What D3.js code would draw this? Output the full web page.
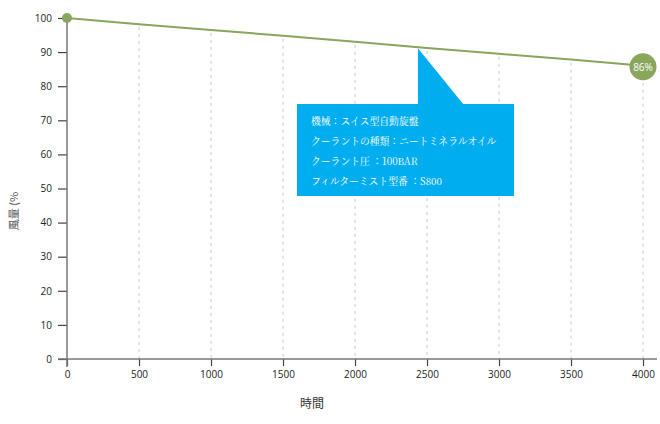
<!DOCTYPE html>
<html>
<head>
<meta charset="utf-8">
<script src="https://cdn.jsdelivr.net/npm/d3@7"></script>
<style>
  body { margin: 0; background: #fff; }
  svg { display: block; }
</style>
</head>
<body>
<div id="chart"></div>
<script>
const hours = [0, 500, 1000, 1500, 2000, 2500, 3000, 3500, 4000]
const airflow = [100, 98.2, 96.5, 94.8, 93, 91.2, 89.5, 87.8, 86]
const yTicks = [0, 10, 20, 30, 40, 50, 60, 70, 80, 90, 100]
const tipLines = [
  '機械：スイス型自動旋盤',
  'クーラントの種類：ニートミネラルオイル',
  'クーラント圧 ：100BAR',
  'フィルターミスト型番 ：S800'
]
const tipHour = 2437

const width = 660
const height = 424
const margin = { top: 18, right: 17, bottom: 65, left: 67 }
const green = '#88a65c'

const svg = d3.select('#chart').append('svg').attr('width', width).attr('height', height)

const xScale = d3.scaleLinear().domain([0, 4000]).range([margin.left, width - margin.right])
const yScale = d3.scaleLinear().domain([0, 100]).range([height - margin.bottom, margin.top])

const data = hours.map((h, i) => ({ h, v: airflow[i] }))

// drop lines from each point to the axis
svg
  .append('g')
  .selectAll('line')
  .data(data.slice(1))
  .join('line')
  .attr('x1', (d) => xScale(d.h))
  .attr('x2', (d) => xScale(d.h))
  .attr('y1', (d) => yScale(d.v) + 3)
  .attr('y2', yScale(0))
  .attr('stroke', '#c8c8c8')
  .attr('stroke-width', 1)
  .attr('stroke-dasharray', '3,4')

// axes
const xAxis = d3.axisBottom(xScale).tickValues(hours).tickFormat(d3.format('d')).tickSize(7).tickPadding(5)
const yAxis = d3.axisLeft(yScale).tickValues(yTicks).tickSize(9).tickPadding(6)

const styleAxis = (g) => {
  g.select('.domain').remove()
  g.selectAll('.tick line').attr('stroke', '#444').attr('stroke-width', 1.2)
  g.selectAll('.tick text')
    .attr('fill', '#222')
    .attr('font-size', '10px')
    .attr('font-family', '"Open Sans", sans-serif')
}

svg
  .append('g')
  .attr('transform', `translate(0,${yScale(0)})`)
  .call(xAxis)
  .call(styleAxis)

svg
  .append('g')
  .attr('transform', `translate(${xScale(0)},0)`)
  .call(yAxis)
  .call(styleAxis)

// axis lines with overhang
svg
  .append('line')
  .attr('x1', xScale(0) - 9)
  .attr('x2', width - 3)
  .attr('y1', yScale(0))
  .attr('y2', yScale(0))
  .attr('stroke', '#777')
  .attr('stroke-width', 1.5)
svg
  .append('line')
  .attr('x1', xScale(0))
  .attr('x2', xScale(0))
  .attr('y1', yScale(100))
  .attr('y2', yScale(0) + 8)
  .attr('stroke', '#777')
  .attr('stroke-width', 1.5)

// axis titles
svg
  .append('text')
  .attr('x', 312)
  .attr('y', 408)
  .attr('text-anchor', 'middle')
  .attr('font-size', '12px')
  .attr('font-family', '"Noto Sans CJK JP", sans-serif')
  .attr('fill', '#333')
  .text('時間')

svg
  .append('text')
  .attr('transform', 'translate(18,211) rotate(-90)')
  .attr('text-anchor', 'middle')
  .attr('font-size', '11px')
  .attr('font-family', '"Noto Sans CJK JP", sans-serif')
  .attr('fill', '#555')
  .text('風量 (%')

// line
const line = d3
  .line()
  .x((d) => xScale(d.h))
  .y((d) => yScale(d.v))

svg
  .append('path')
  .datum(data)
  .attr('d', line)
  .attr('fill', 'none')
  .attr('stroke', green)
  .attr('stroke-width', 2)

// start point
svg
  .append('circle')
  .attr('cx', xScale(hours[0]))
  .attr('cy', yScale(airflow[0]))
  .attr('r', 5)
  .attr('fill', green)

// end bubble
const last = data[data.length - 1]
svg
  .append('circle')
  .attr('cx', xScale(last.h))
  .attr('cy', yScale(last.v) + 1)
  .attr('r', 13.5)
  .attr('fill', green)
svg
  .append('text')
  .attr('x', xScale(last.h))
  .attr('y', yScale(last.v) + 5)
  .attr('text-anchor', 'middle')
  .attr('font-size', '10px')
  .attr('font-family', '"Open Sans", sans-serif')
  .attr('fill', '#fff')
  .text(`${last.v}%`)

// tooltip callout
const tipX = xScale(tipHour)
const tipY = yScale(d3.interpolateNumber(airflow[4], airflow[5])((tipHour - 2000) / 500)) + 1
const boxTop = 104
const box = { x: 297, y: boxTop, w: 217, h: 92 }
const tip = svg.append('g')
tip
  .append('path')
  .attr('d', `M${tipX},${tipY} L${tipX},${boxTop + 1} L${tipX + 46},${boxTop + 1} Z`)
  .attr('fill', '#00adee')
tip
  .append('rect')
  .attr('x', box.x)
  .attr('y', box.y)
  .attr('width', box.w)
  .attr('height', box.h)
  .attr('fill', '#00adee')
tip
  .selectAll('text')
  .data(tipLines)
  .join('text')
  .attr('x', box.x + 14)
  .attr('y', (d, i) => box.y + 21 + i * 20)
  .attr('font-size', '9.8px')
  .attr('font-family', '"Noto Serif CJK JP", "Noto Sans CJK JP", serif')
  .attr('fill', '#fff')
  .text((d) => d)
</script>
</body>
</html>
